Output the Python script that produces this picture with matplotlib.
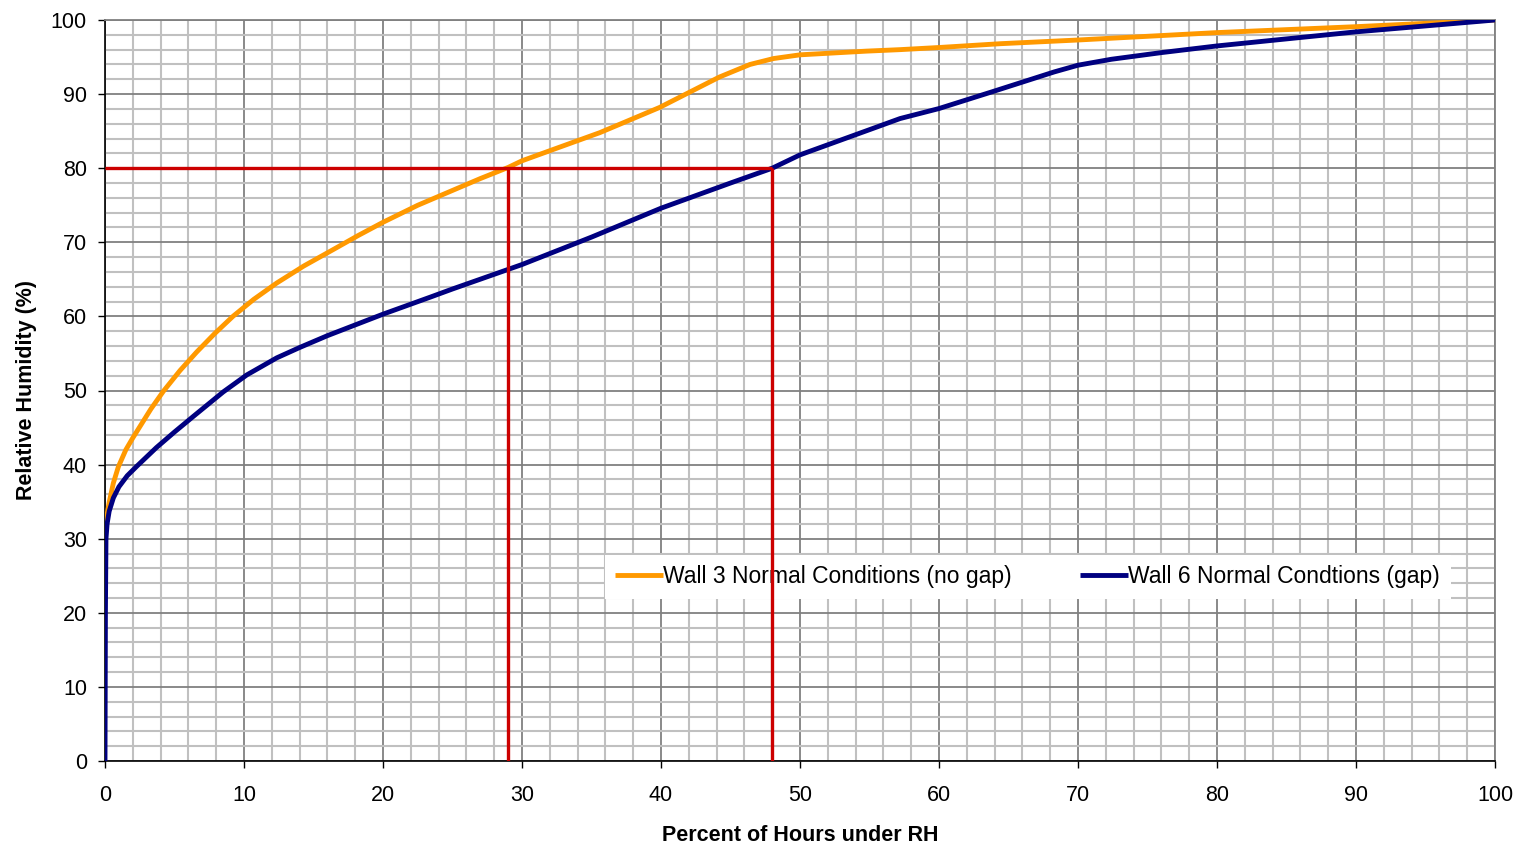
import matplotlib
matplotlib.use("Agg")
import matplotlib.pyplot as plt
from matplotlib.ticker import MultipleLocator

plt.rcParams['font.family'] = ['Liberation Sans', 'DejaVu Sans']

# Wall 3 Normal Conditions (no gap)
w3_x = [0, 0.1, 0.3, 0.6, 0.96, 1.5, 2.0, 2.5, 3.3, 4.2, 5.4, 6.6, 7.9, 9.2, 10.7, 12.35, 14.3, 16.4,
        18.2, 20, 22.5, 25, 27, 29, 30, 32.5, 35.6, 37.5, 39.9, 42.1, 44.2, 46.4, 48.1, 50,
        54.8, 57.2, 60.1, 64.4, 70, 80, 90, 100]
w3_y = [31, 32.7, 34.9, 37.5, 39.7, 42.0, 43.6, 45.1, 47.5, 49.9, 52.7, 55.2, 57.7, 60, 62.3, 64.5, 66.8, 69,
        70.9, 72.7, 75, 77, 78.6, 80.1, 81, 82.7, 84.8, 86.3, 88.2, 90.3, 92.3, 94.0, 94.8, 95.3,
        95.8, 96.0, 96.3, 96.8, 97.3, 98.3, 99.1, 100]

# Wall 6 Normal Condtions (gap)
w6_x = [0, 0.03, 0.07, 0.15, 0.3, 0.6, 1.0, 1.6, 2.3, 3.7, 5.0, 6.35, 8.5, 10.2, 12.35, 14, 16,
        20, 23.4, 25, 30, 35, 40, 45, 48, 50, 55, 57.2, 60, 63.8, 68.3, 70, 72.4, 76, 80, 90, 100]
w6_y = [0, 20, 30, 32, 33.7, 35.5, 37, 38.5, 39.8, 42.3, 44.4, 46.5, 49.8, 52.1, 54.4, 55.8, 57.4,
        60.3, 62.6, 63.7, 67, 70.7, 74.6, 78.0, 80, 81.8, 85.2, 86.7, 88.05, 90.3, 93.0, 93.9, 94.7, 95.6, 96.5, 98.4, 100]

# Reference lines: 80% RH crossing
ref_rh = 80
ref_x = [29, 48]

x_ticks = list(range(0, 101, 10))
y_ticks = list(range(0, 101, 10))

fig = plt.figure(figsize=(15.27, 8.5), dpi=100)
ax = fig.add_axes([105/1527, 1-761/850, (1495-105)/1527, (761-20)/850])

ax.set_xlim(0, 100)
ax.set_ylim(0, 100)
ax.set_xticks(x_ticks)
ax.set_yticks(y_ticks)
ax.xaxis.set_minor_locator(MultipleLocator(2))
ax.yaxis.set_minor_locator(MultipleLocator(2))
ax.grid(which='minor', color='#c0c0c0', linewidth=1.5, zorder=0)
ax.grid(which='major', color='#808080', linewidth=1.3, zorder=0)
ax.set_axisbelow(True)
ax.tick_params(which='minor', length=0)
ax.tick_params(which='major', length=5, width=1, direction='out', labelsize=15.5, colors='black')
ax.tick_params(axis='x', pad=12)
ax.tick_params(axis='y', pad=8)

for s in ['top', 'right']:
    ax.spines[s].set_color('#808080')
    ax.spines[s].set_linewidth(1.3)
for s in ['left', 'bottom']:
    ax.spines[s].set_color('black')
    ax.spines[s].set_linewidth(1.2)

l1, = ax.plot(w3_x, w3_y, color='#FF9900', linewidth=3.5, solid_capstyle='butt',
              solid_joinstyle='round', label='Wall 3 Normal Conditions (no gap)', zorder=3)
l2, = ax.plot(w6_x, w6_y, color='#000080', linewidth=3.5, solid_capstyle='butt',
              solid_joinstyle='round', label='Wall 6 Normal Condtions (gap)', zorder=3)

ax.plot([0, ref_x[1]], [ref_rh, ref_rh], color='#CC0000', linewidth=2.4, zorder=4, solid_capstyle='butt')
for xv in ref_x:
    ax.plot([xv, xv], [0, ref_rh], color='#CC0000', linewidth=2.4, zorder=4, solid_capstyle='butt')

ax.set_xlabel('Percent of Hours under RH', fontsize=15.5, fontweight='bold', labelpad=14)
ax.set_ylabel('Relative Humidity (%)', fontsize=15.5, fontweight='bold', labelpad=10)

leg = ax.legend(handles=[l1, l2], loc='center',
                bbox_to_anchor=(((582 + 1463) / 2 - 105 + 5) / 1390, (761 - 577) / 741),
                ncol=2, frameon=True, fancybox=False, fontsize=16.5, handlelength=2.1,
                handletextpad=0.0, columnspacing=3.0, borderpad=0.45, borderaxespad=0)
leg.get_frame().set_facecolor('white')
leg.get_frame().set_edgecolor('none')
leg.get_frame().set_alpha(1)
leg.set_zorder(3.5)

fig.savefig('out.png', dpi=100)
